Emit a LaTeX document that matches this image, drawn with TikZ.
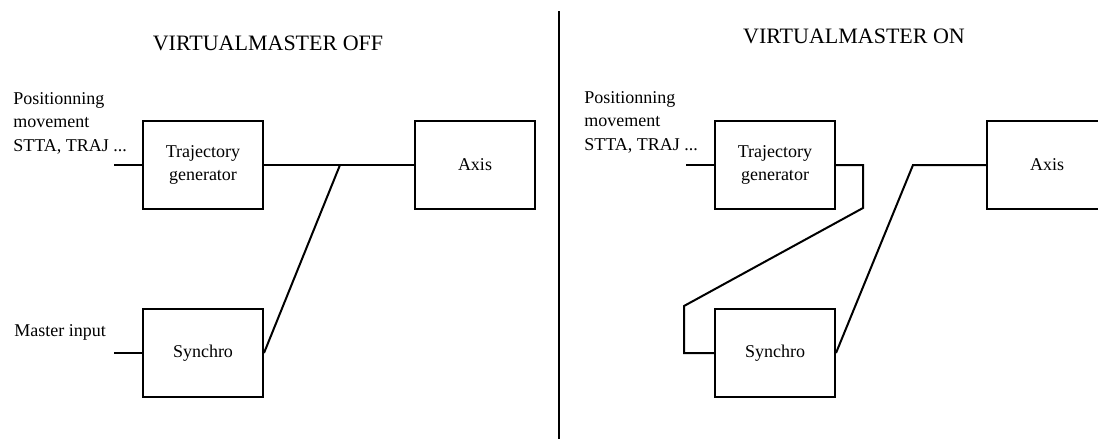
\documentclass[tikz,border=0pt]{standalone}
\usepackage{fontspec}
\setmainfont{Liberation Serif}
\usepackage{tikz}
\usetikzlibrary{positioning}
\tikzset{
  block/.style={rectangle, draw, line width=1pt, minimum width=60pt, minimum height=44pt, align=center, font=\fontsize{9}{11.5}\selectfont},
  title/.style={font=\fontsize{11}{13}\selectfont},
  label/.style={anchor=west, align=left, inner sep=0pt, font=\fontsize{9}{11.75}\selectfont},
  wire/.style={line width=1pt},
}

\begin{document}
\begin{tikzpicture}[x=0.5pt, y=-0.5pt, node distance=49pt and 75pt]
  \useasboundingbox[fill=white] (0,0) rectangle (1098,439);

  % Left half: virtual master off
  \node[title] (titleL) at (268,43) {VIRTUALMASTER OFF};
  \node[block] (trajL) at (203,165) {Trajectory\\generator};
  \node[block, right=of trajL] (axisL) {Axis};
  \node[block, below=of trajL] (syncL) {Synchro};

  \node[label] (posL) at (13,123) {Positionning\\movement\\STTA, TRAJ ...};
  \node[label] (masterL) at (14,332) {Master input};

  \coordinate[left=14pt of trajL.west] (inL);
  \coordinate[left=14pt of syncL.west] (mstL);
  \coordinate (jL) at (340,165);

  \draw[wire] (inL) -- (trajL);
  \draw[wire] (mstL) -- (syncL);
  \draw[wire] (trajL) -- (axisL);
  \draw[wire] (syncL.east) -- (jL);

  % Separator
  \draw[line width=1pt] (559,11) -- (559,439);

  % Right half: virtual master on
  \node[title] (titleR) at (854,36) {VIRTUALMASTER ON};
  \node[block] (trajR) at (775,165) {Trajectory\\generator};
  \node[block, right=of trajR] (axisR) {Axis};
  \node[block, below=of trajR] (syncR) {Synchro};

  \node[label] (posR) at (584,122) {Positionning\\movement\\STTA, TRAJ ...};

  \coordinate[left=14pt of trajR.west] (inR);
  \coordinate (loopA) at (863,165);
  \coordinate (loopB) at (863,208);
  \coordinate (loopC) at (684,306);
  \coordinate (jR) at (913,165);

  \draw[wire] (inR) -- (trajR);
  \draw[wire] (trajR.east) -- (loopA) -- (loopB) -- (loopC) |- (syncR.west);
  \draw[wire] (syncR.east) -- (jR) -- (axisR.west);
\end{tikzpicture}
\end{document}
